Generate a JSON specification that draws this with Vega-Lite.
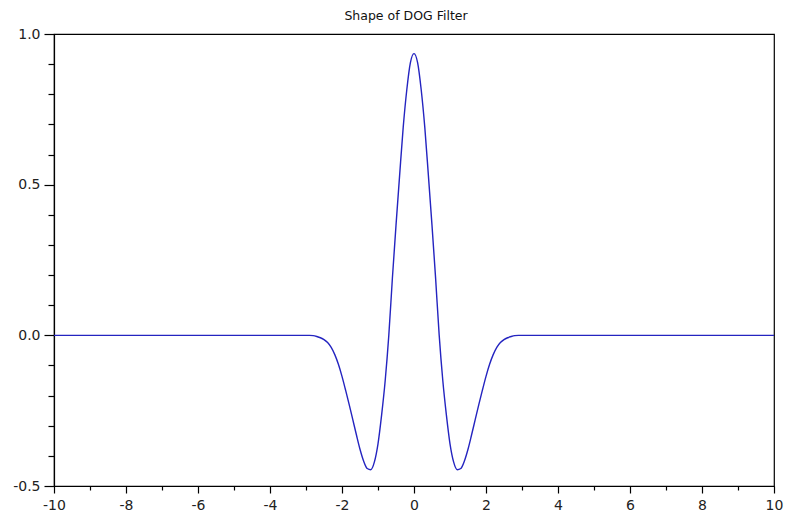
{
  "$schema": "https://vega.github.io/schema/vega-lite/v6.json",
  "width": 720,
  "height": 452,
  "autosize": "none",
  "padding": {"left": 54, "top": 34, "right": 11, "bottom": 31},
  "background": "white",
  "config": {
    "view": {"stroke": "#000", "strokeWidth": 1.2},
    "font": "DejaVu Sans"
  },
  "title": {
    "text": "Shape of DOG Filter",
    "fontSize": 12.5,
    "fontWeight": "normal",
    "color": "#111",
    "font": "DejaVu Sans",
    "anchor": "middle",
    "offset": 5,
    "dx": -8
  },
  "data": {
    "values": [
      {"x": -10, "y": 0},
      {"x": -2.9, "y": 0},
      {"x": -2.8, "y": -0.001},
      {"x": -2.7, "y": -0.004},
      {"x": -2.6, "y": -0.008},
      {"x": -2.5, "y": -0.014},
      {"x": -2.4, "y": -0.024},
      {"x": -2.3, "y": -0.04},
      {"x": -2.2, "y": -0.064},
      {"x": -2.1, "y": -0.096},
      {"x": -2.0, "y": -0.136},
      {"x": -1.9, "y": -0.182},
      {"x": -1.8, "y": -0.23},
      {"x": -1.7, "y": -0.28},
      {"x": -1.6, "y": -0.33},
      {"x": -1.5, "y": -0.378},
      {"x": -1.4, "y": -0.417},
      {"x": -1.3, "y": -0.442},
      {"x": -1.2, "y": -0.446},
      {"x": -1.1, "y": -0.42},
      {"x": -1.0, "y": -0.36},
      {"x": -0.9, "y": -0.265},
      {"x": -0.8, "y": -0.15},
      {"x": -0.7, "y": 0.0},
      {"x": -0.6, "y": 0.19},
      {"x": -0.5, "y": 0.365},
      {"x": -0.4, "y": 0.53},
      {"x": -0.3, "y": 0.69},
      {"x": -0.2, "y": 0.815},
      {"x": -0.1, "y": 0.905},
      {"x": 0, "y": 0.935},
      {"x": 0.1, "y": 0.905},
      {"x": 0.2, "y": 0.815},
      {"x": 0.3, "y": 0.69},
      {"x": 0.4, "y": 0.53},
      {"x": 0.5, "y": 0.365},
      {"x": 0.6, "y": 0.19},
      {"x": 0.7, "y": 0.0},
      {"x": 0.8, "y": -0.15},
      {"x": 0.9, "y": -0.265},
      {"x": 1.0, "y": -0.36},
      {"x": 1.1, "y": -0.42},
      {"x": 1.2, "y": -0.446},
      {"x": 1.3, "y": -0.442},
      {"x": 1.4, "y": -0.417},
      {"x": 1.5, "y": -0.378},
      {"x": 1.6, "y": -0.33},
      {"x": 1.7, "y": -0.28},
      {"x": 1.8, "y": -0.23},
      {"x": 1.9, "y": -0.182},
      {"x": 2.0, "y": -0.136},
      {"x": 2.1, "y": -0.096},
      {"x": 2.2, "y": -0.064},
      {"x": 2.3, "y": -0.04},
      {"x": 2.4, "y": -0.024},
      {"x": 2.5, "y": -0.014},
      {"x": 2.6, "y": -0.008},
      {"x": 2.7, "y": -0.004},
      {"x": 2.8, "y": -0.001},
      {"x": 2.9, "y": 0},
      {"x": 10, "y": 0}
    ]
  },
  "layer": [
    {
      "mark": {"type": "line", "color": "#2424c0", "strokeWidth": 1.4, "interpolate": "monotone"},
      "encoding": {
        "x": {
          "field": "x", "type": "quantitative",
          "scale": {"domain": [-10, 10], "nice": false, "zero": false},
          "axis": {
            "orient": "bottom", "title": null, "grid": false,
            "values": [-10, -8, -6, -4, -2, 0, 2, 4, 6, 8, 10],
            "labelExpr": "datum.value < 0 ? '-' + format(-datum.value, 'd') : format(datum.value, 'd')",
            "tickSize": 7, "tickColor": "#000", "tickWidth": 1.2,
            "domainColor": "#000", "domainWidth": 1.2,
            "labelFontSize": 14, "labelColor": "#222", "labelPadding": 5,
            "labelFont": "DejaVu Sans", "labelFlush": false
          }
        },
        "y": {
          "field": "y", "type": "quantitative",
          "scale": {"domain": [-0.5, 1.0], "nice": false, "zero": false},
          "axis": {
            "orient": "left", "title": null, "grid": false,
            "values": [-0.5, 0, 0.5, 1.0],
            "labelExpr": "datum.value < 0 ? '-' + format(-datum.value, '.1f') : format(datum.value, '.1f')",
            "tickSize": 10, "tickColor": "#000", "tickWidth": 1.2,
            "domainColor": "#000", "domainWidth": 1.2,
            "labelFontSize": 14, "labelColor": "#222", "labelPadding": 4,
            "labelFont": "DejaVu Sans", "labelFlush": false
          }
        }
      }
    },
    {
      "mark": {"type": "line", "strokeOpacity": 0},
      "encoding": {
        "x": {
          "field": "x", "type": "quantitative",
          "axis": {
            "orient": "bottom", "title": null, "grid": false, "labels": false, "domain": false,
            "values": [-9, -7, -5, -3, -1, 1, 3, 5, 7, 9],
            "tickSize": 4, "tickColor": "#000", "tickWidth": 1.2
          }
        },
        "y": {
          "field": "y", "type": "quantitative",
          "axis": {
            "orient": "left", "title": null, "grid": false, "labels": false, "domain": false,
            "values": [-0.4, -0.3, -0.2, -0.1, 0.1, 0.2, 0.3, 0.4, 0.6, 0.7, 0.8, 0.9],
            "tickSize": 6, "tickColor": "#000", "tickWidth": 1.2
          }
        }
      }
    }
  ],
  "resolve": {"axis": {"x": "independent", "y": "independent"}}
}
